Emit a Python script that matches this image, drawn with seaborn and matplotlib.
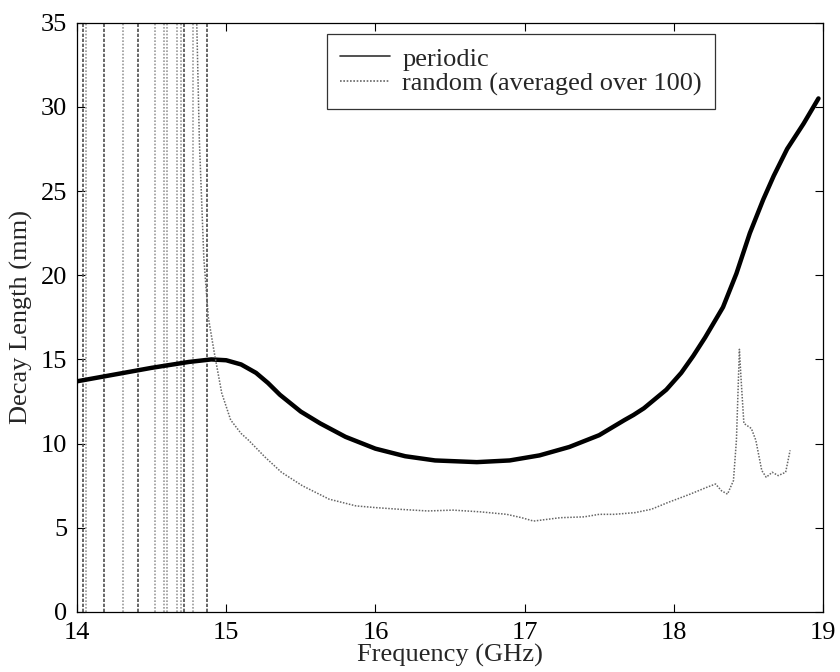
import numpy as np
import seaborn as sns
import matplotlib
matplotlib.use('Agg')
import matplotlib.pyplot as plt

sns.set_theme(style='ticks')
plt.rcParams['font.family'] = ['Liberation Serif', 'DejaVu Serif']

# periodic structure (thick curve)
periodic_freq = [14.00, 14.25, 14.50, 14.75, 14.90, 15.00, 15.10, 15.20, 15.28, 15.36,
                 15.50, 15.63, 15.80, 16.00, 16.20, 16.40, 16.68, 16.90, 17.10, 17.30,
                 17.50, 17.67, 17.73, 17.80, 17.95, 18.05, 18.13, 18.21, 18.33, 18.42,
                 18.51, 18.60, 18.67, 18.76, 18.87, 18.97]
periodic_decay = [13.7, 14.1, 14.5, 14.85, 15.0, 14.95, 14.7, 14.2, 13.6, 12.9,
                  11.9, 11.2, 10.4, 9.7, 9.25, 9.0, 8.9, 9.0, 9.3, 9.8,
                  10.5, 11.4, 11.7, 12.1, 13.2, 14.2, 15.2, 16.3, 18.1, 20.1,
                  22.5, 24.5, 25.9, 27.5, 29.0, 30.5]

# random structure, averaged over 100
random_freq = [14.80, 14.82, 14.85, 14.88, 14.92, 14.97, 15.03, 15.10, 15.15, 15.26,
               15.37, 15.51, 15.69, 15.87, 16.00, 16.16, 16.35, 16.52, 16.70, 16.88,
               16.98, 17.06, 17.15, 17.24, 17.40, 17.50, 17.60, 17.74, 17.85, 17.96,
               18.11, 18.22, 18.28, 18.32, 18.36, 18.40, 18.42, 18.44, 18.45, 18.47,
               18.52, 18.55, 18.59, 18.62, 18.66, 18.70, 18.75, 18.78]
random_decay = [36.0, 28.0, 21.0, 17.5, 15.4, 13.0, 11.4, 10.6, 10.2, 9.2,
                8.3, 7.5, 6.7, 6.3, 6.2, 6.1, 6.0, 6.05, 5.95, 5.8,
                5.6, 5.4, 5.5, 5.6, 5.65, 5.8, 5.8, 5.9, 6.1, 6.5,
                7.0, 7.4, 7.6, 7.2, 7.0, 7.8, 10.2, 15.6, 14.0, 11.2,
                10.9, 10.2, 8.4, 8.0, 8.3, 8.1, 8.3, 9.6]

# resonances in the low band (decay length runs off the scale)
spikes_gray = [14.00, 14.06, 14.31, 14.52, 14.58, 14.60, 14.67, 14.70, 14.78]
spikes_dark = [14.04, 14.18, 14.41, 14.72, 14.87]

fig = plt.figure(figsize=(8.4, 6.72), dpi=100)
ax = fig.add_axes([0.0917, 0.0893, 0.888, 0.877])

ax.vlines(spikes_gray, 0, 35, colors='0.6', linestyles=(0, (1, 1)), linewidth=1.2)
ax.vlines(spikes_dark, 0, 35, colors='0.3', linestyles=(0, (2, 1)), linewidth=1.2)

sns.lineplot(x=periodic_freq, y=periodic_decay, ax=ax, color='black', linewidth=3.2,
             label='periodic', sort=False)
sns.lineplot(x=random_freq, y=random_decay, ax=ax, color='0.4', linewidth=1.1,
             linestyle=(0, (1, 1)), label='random (averaged over 100)', sort=False)

ax.set_xlim(14, 19)
ax.set_ylim(0, 35)
ax.set_xticks(range(14, 20))
ax.set_yticks(range(0, 36, 5))
ax.tick_params(direction='in', length=6, width=0.8, top=True, right=True,
               labelsize=19, colors='black', pad=7)
for s in ax.spines.values():
    s.set_visible(True)
    s.set_color('black')
    s.set_linewidth(0.9)

ax.set_xlabel('Frequency (GHz)', fontsize=19, labelpad=0)
ax.set_ylabel('Decay Length (mm)', fontsize=19, labelpad=6)

leg = ax.legend(loc='upper left', bbox_to_anchor=(0.335, 0.981), borderaxespad=0,
                fontsize=19, frameon=True, fancybox=False, edgecolor='black',
                handlelength=1.9, handletextpad=0.45, labelspacing=0.05,
                borderpad=0.5)
leg.get_frame().set_linewidth(0.9)
for ln in leg.get_lines():
    ln.set_linewidth(1.2)
leg.get_lines()[0].set_color('0.2')

fig.savefig('out.png', dpi=100)
